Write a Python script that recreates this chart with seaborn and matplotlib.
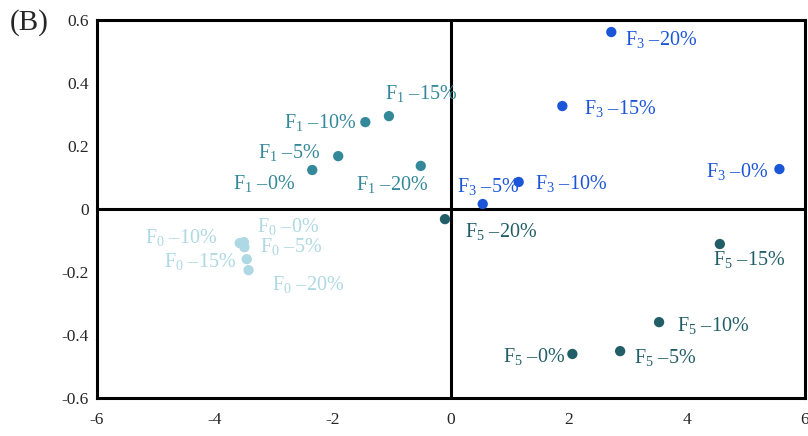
import matplotlib
matplotlib.use("Agg")
import matplotlib.pyplot as plt
import seaborn as sns
import pandas as pd

# ---- data ----
groups = ["F0"] * 5 + ["F1"] * 5 + ["F3"] * 5 + ["F5"] * 5
levels = ["0%", "5%", "10%", "15%", "20%"] * 4
pc1 = [-3.51, -3.50, -3.58, -3.46, -3.43,
       -2.35, -1.91, -1.45, -1.05, -0.51,
       5.57, 0.54, 1.15, 1.89, 2.72,
       2.06, 2.87, 3.53, 4.56, -0.10]
pc2 = [-0.105, -0.121, -0.108, -0.159, -0.194,
       0.124, 0.168, 0.276, 0.295, 0.137,
       0.127, 0.016, 0.086, 0.327, 0.562,
       -0.460, -0.451, -0.359, -0.111, -0.032]
x_ticks = [-6, -4, -2, 0, 2, 4, 6]
y_ticks = [-0.6, -0.4, -0.2, 0, 0.2, 0.4, 0.6]
y_tick_labels = ["-0.6", "-0.4", "-0.2", "0", "0.2", "0.4", "0.6"]
palette = {"F0": "#aed8e4", "F1": "#33889a", "F3": "#1b55d8", "F5": "#225e68"}

# label placement (pixel offsets, alignment) - style only
label_style = [
    (13, 16, "left"), (16, 1, "left"), (-23, 6, "right"), (-11, -2, "right"), (23, -14, "left"),
    (-17, -13, "right"), (-18, 4, "right"), (-9, 0, "right"), (-4, 23, "left"), (7, -19, "right"),
    (-11, -2, "right"), (-26, 18, "left"), (16, -2, "left"), (22, -2, "left"), (14, -7, "left"),
    (-7, -3, "right"), (14, -6, "left"), (18, -3, "left"), (-7, -15, "left"), (20, -12, "left"),
]

df = pd.DataFrame({"group": groups, "level": levels, "PC1": pc1, "PC2": pc2})

sns.set_style("white")
plt.rcParams["font.family"] = ["Liberation Serif", "DejaVu Serif"]
plt.rcParams["mathtext.fontset"] = "custom"
plt.rcParams["mathtext.rm"] = "Liberation Serif"
plt.rcParams["mathtext.it"] = "Liberation Serif:italic"
plt.rcParams["axes.unicode_minus"] = False

fig = plt.figure(figsize=(8.08, 4.36), dpi=100)
ax = fig.add_axes([0.12, 0.087, 0.876, 0.867])

sns.scatterplot(data=df, x="PC1", y="PC2", hue="group", palette=palette,
                s=55, edgecolor="none", legend=False, ax=ax, zorder=3)

for i, row in df.iterrows():
    dx, dy, ha = label_style[i]
    sub = row["group"][1]
    txt = r"F$_{\mathregular{" + sub + r"}}$ –" + row["level"]
    ax.annotate(txt, (row["PC1"], row["PC2"]), xytext=(dx, dy),
                textcoords="offset pixels", ha=ha, va="center",
                fontsize=14.5, color=palette[row["group"]])

ax.set_xlim(-6, 6)
ax.set_ylim(-0.6, 0.6)
ax.set_xticks(x_ticks)
ax.set_yticks(y_ticks)
ax.set_yticklabels(y_tick_labels)
ax.tick_params(axis="both", length=0, labelsize=12.5)
ax.tick_params(axis="y", pad=6)
ax.tick_params(axis="x", pad=10)
ax.axhline(0, color="black", lw=2.2, zorder=2)
ax.axvline(0, color="black", lw=2.2, zorder=2)
for sp in ax.spines.values():
    sp.set_color("black")
    sp.set_linewidth(2.2)
ax.set_xlabel("")
ax.set_ylabel("")

fig.text(0.012, 0.948, "(B)", fontsize=21, ha="left", va="center")

fig.savefig("out.png", dpi=100)
